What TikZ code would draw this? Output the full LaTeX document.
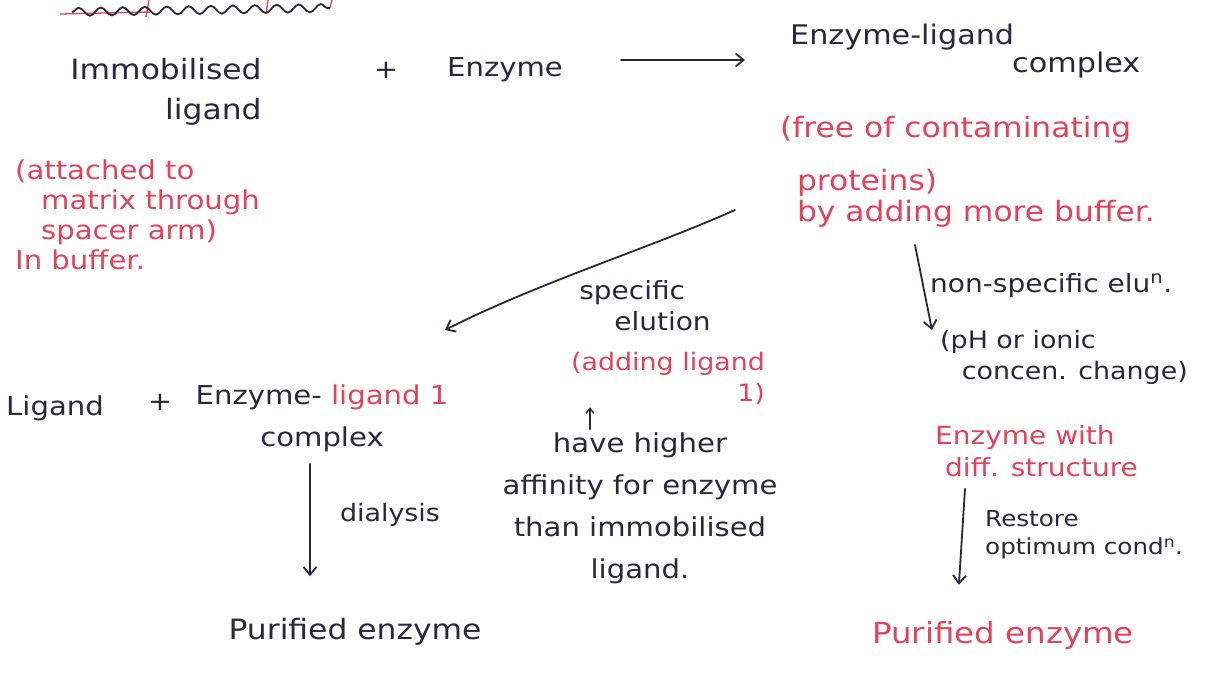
\documentclass[tikz,border=0pt]{standalone}
\usepackage{fontspec}
\setmainfont{DejaVu Sans}[FakeStretch=1.12]
\usetikzlibrary{arrows.meta,decorations.pathmorphing,calc}
\definecolor{ink}{RGB}{42,38,60}
\definecolor{hred}{RGB}{226,66,90}
\begin{document}
\begin{tikzpicture}[x=1pt,y=-1pt,
  handbig/.style={text=ink,font=\fontsize{26}{42}\selectfont,inner sep=0pt},
  handmid/.style={text=ink,font=\fontsize{24}{31}\selectfont,inner sep=0pt},
  handsmall/.style={text=ink,font=\fontsize{22}{28}\selectfont,inner sep=0pt},
  redink/.style={text=hred},
  arr/.style={draw=ink,line width=1.8pt,line cap=round,-{Straight Barb[length=8pt,width=13pt]}},
  arrsmall/.style={draw=ink,line width=1.4pt,line cap=round,-{Straight Barb[length=5pt,width=8pt]}}]
\path[use as bounding box,fill=white] (0,0) rectangle (1231,688);
% cut-off heading underline
\draw[hred,line width=1.3pt] (60,14) -- (150,12);
\draw[hred,line width=1.3pt] (149,0) -- (146,17);
\draw[hred,line width=1.3pt] (268,0) -- (266,14);
\draw[hred,line width=1.3pt] (332,0) -- (330,8);
\draw[ink,line width=1.8pt,decorate,decoration={snake,amplitude=4pt,segment length=22pt}] (72,12) -- (330,8);
% top row
\node[handbig,align=right,font=\fontsize{28}{40}\selectfont] (imm) at (166,92) {Immobilised\\ligand};
\node[handbig] (p1) at (386,70) {+};
\node[handbig] (enz) at (505,70) {Enzyme};
\node[handbig,align=left,anchor=north west,font=\fontsize{27}{28}\selectfont] (eln) at (790,24) {Enzyme-ligand\\\hspace*{222pt}complex};
\draw[arr] ($(enz.east)+(58,-10)$) -- ($(enz.east -| eln.west)+(-45,-10)$);
% red notes
\node[handmid,redink,align=left,anchor=north west,font=\fontsize{26}{30}\selectfont] (redL) at (15,160) {(attached to\\\hspace*{1em}matrix through\\\hspace*{1em}spacer arm)\\In buffer.};
\node[handbig,redink,align=left,anchor=north west,font=\fontsize{28}{31}\selectfont] (redR) at (780,116) {(free of contaminating\\[22pt]\hspace*{0.6em}proteins)\\\hspace*{0.6em}by adding more buffer.};
% specific elution
\coordinate (c1) at (735,210);
\coordinate (c2) at (445,330);
\draw[arr] (c1) .. controls (650,248) and (540,282) .. (c2);
\node[handmid,align=left,font=\fontsize{25}{31}\selectfont] (spec) at (645,306) {specific\\\hspace*{1.4em}elution};
\node[handmid,redink,align=right] (add) at (668,378) {(adding ligand\\1)};
\node[handbig,align=center] (aff) at (640,508) {have higher\\affinity for enzyme\\than immobilised\\ligand.};
\draw[arrsmall] ($(aff.north)+(-50,-3)$) -- ++(0,-22);
% second row left
\node[handbig] (lig) at (55,408) {Ligand};
\node[handbig] (p2) at (160,402) {+};
\node[handbig,align=center] (elc) at (322,418) {Enzyme- \textcolor{hred}{ligand 1}\\complex};
\node[handbig,font=\fontsize{28}{34}\selectfont] (pur1) at (355,632) {Purified enzyme};
\draw[arr] ($(elc.south)+(-12,12)$) -- ($(pur1.north)+(-45,-42)$);
\node[handmid] (dl) at (390,515) {dialysis};
% right column
\coordinate (n1) at (915,245);
\coordinate (n2) at (932,330);
\draw[arr] (n1) -- (n2);
\node[handmid,anchor=west,font=\fontsize{25}{31}\selectfont] (nse1) at (930,286) {non-specific elu\textsuperscript{n}.};
\node[handmid,align=left,anchor=north west] (nse2) at (940,330) {(pH or ionic\\\hspace*{0.9em}concen. change)};
\node[handbig,redink,align=left,anchor=north west,font=\fontsize{25}{32}\selectfont] (ew) at (935,425) {Enzyme with\\\hspace*{0.4em}diff. structure};
\node[handbig,redink,font=\fontsize{29}{34}\selectfont] (pur2) at (1003,635) {Purified enzyme};
\draw[arr] ($(ew.south west)+(30,12)$) -- ($(pur2.north west)+(87,-36)$);
\node[handsmall,align=left,anchor=west] (rest) at (985,535) {Restore\\optimum cond\textsuperscript{n}.};
\end{tikzpicture}
\end{document}
